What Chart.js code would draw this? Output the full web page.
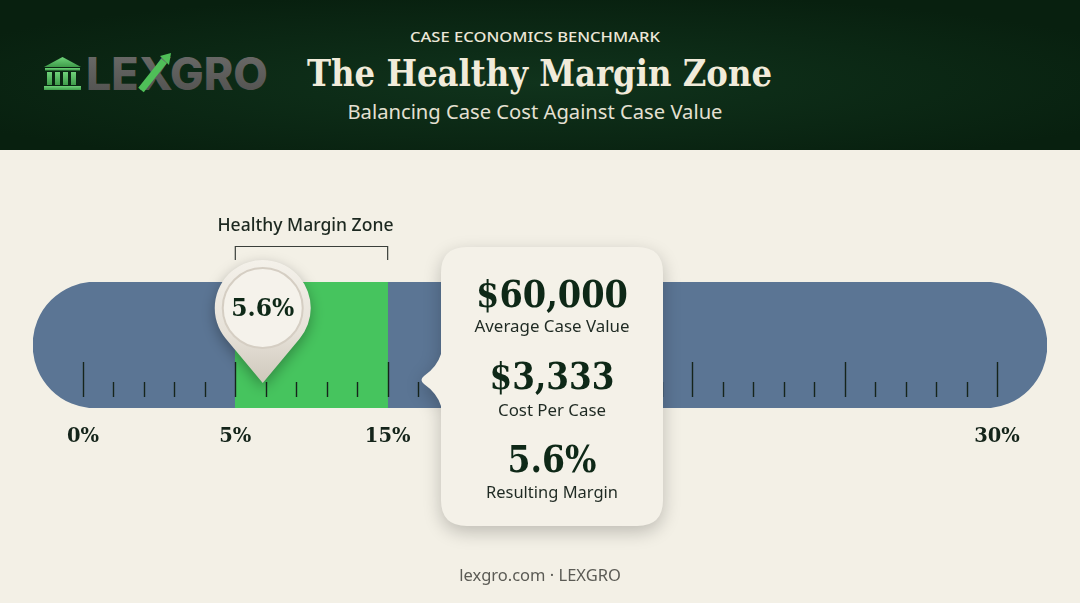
<!DOCTYPE html>
<html>
<head>
<meta charset="utf-8">
<script src="https://cdn.jsdelivr.net/npm/chart.js@4.4.1/dist/chart.umd.min.js"></script>
<style>
  html, body { margin: 0; padding: 0; }
  body { width: 1080px; height: 603px; background: #F3F0E6; position: relative; overflow: hidden; font-family: "Noto Sans", sans-serif; }
  #head { position: absolute; left: 0; top: 0; }
  #myChart { position: absolute; left: 0; top: 0; z-index: 1; }
  #foot { position: absolute; left: 0; width: 1080px; top: 563px; text-align: center; font-size: 16.5px; color: #5b5b55; z-index: 2; }
</style>
</head>
<body>
<svg id="head" width="1080" height="150" viewBox="0 0 1080 150">
  <defs>
    <radialGradient id="hg" cx="50%" cy="55%" r="60%">
      <stop offset="0" stop-color="#10331c"/>
      <stop offset="1" stop-color="#08200f"/>
    </radialGradient>
    <linearGradient id="lg" x1="0" y1="0" x2="0" y2="1">
      <stop offset="0" stop-color="#6fd27a"/>
      <stop offset="1" stop-color="#3f9c4a"/>
    </linearGradient>
    <linearGradient id="tg" x1="0" y1="0" x2="0" y2="1">
      <stop offset="0" stop-color="#6e6e6c"/>
      <stop offset="1" stop-color="#4e4e4c"/>
    </linearGradient>
  </defs>
  <rect x="0" y="0" width="1080" height="150" fill="url(#hg)"/>
  <!-- logo -->
  <g fill="url(#lg)">
    <polygon points="44,67 62.5,57 81,67"/>
    <rect x="45" y="68" width="35" height="2.5"/>
    <rect x="47" y="72" width="5" height="13"/>
    <rect x="55" y="72" width="5" height="13"/>
    <rect x="63" y="72" width="5" height="13"/>
    <rect x="71" y="72" width="5" height="13"/>
    <rect x="44" y="86" width="37" height="4"/>
  </g>
  <text x="86" y="90" font-family="Inter, 'DejaVu Sans', sans-serif" font-weight="800" font-size="45" fill="url(#tg)" textLength="182" lengthAdjust="spacingAndGlyphs">LEXGRO</text>
  <g stroke="#4fbf58" stroke-width="7" fill="none" stroke-linecap="butt">
    <line x1="141" y1="90" x2="164" y2="61"/>
  </g>
  <polygon points="160,56 171,53 169,65" fill="#4fbf58"/>
  <!-- titles -->
  <text x="535" y="42" text-anchor="middle" font-family="'Noto Sans', sans-serif" font-weight="500" font-size="15" fill="#ECE7D8" textLength="250" lengthAdjust="spacingAndGlyphs">CASE ECONOMICS BENCHMARK</text>
  <text x="307" y="86" font-family="'DejaVu Serif', serif" font-weight="700" font-size="37" fill="#F1EBDA" textLength="465" lengthAdjust="spacingAndGlyphs">The Healthy Margin Zone</text>
  <text x="535" y="119" text-anchor="middle" font-family="'Noto Sans', sans-serif" font-size="20.5" fill="#E4E0D2" textLength="375" lengthAdjust="spacingAndGlyphs">Balancing Case Cost Against Case Value</text>
</svg>
<canvas id="myChart" width="1080" height="603"></canvas>
<div id="foot">lexgro.com · LEXGRO</div>
<script>
// gauge data, in the gauge's own units (one minor tick = 1)
const gaugeRows = ["Margin"];
const trackRange = [-1.64, 31.64]; // blue track incl. rounded ends
const zoneRange = [5, 10]; // green healthy zone
const majorTicks = [0, 5, 10, 15, 20, 25, 30];
const labelAt = [0, 5, 10, 30];
const labelText = ["0%", "5%", "15%", "30%"];
const markerAt = 5.9; // where the pin sits on the gauge
const markerLabel = "5.6%";
const zoneTitle = "Healthy Margin Zone";
const calloutValues = ["$60,000", "$3,333", "5.6%"];
const calloutCaptions = ["Average Case Value", "Cost Per Case", "Resulting Margin"];

const dark = "#0E2817";
const serif = "'DejaVu Serif', serif";
const sans = "'Noto Sans', sans-serif";

const gaugeExtras = {
  id: "gaugeExtras",
  afterDatasetsDraw(chart) {
    const { ctx, chartArea } = chart;
    const x = chart.scales.x;
    const bottom = chartArea.bottom;

    // tick marks inside the track
    ctx.save();
    ctx.strokeStyle = "#16241b";
    ctx.lineWidth = 1.4;
    for (let v = majorTicks[0]; v <= majorTicks[majorTicks.length - 1]; v++) {
      const px = Math.round(x.getPixelForValue(v)) + 0.5;
      const top = majorTicks.includes(v) ? bottom - 46 : bottom - 26;
      ctx.beginPath();
      ctx.moveTo(px, top);
      ctx.lineTo(px, bottom - 11);
      ctx.stroke();
    }

    // bracket + zone title
    const z0 = x.getPixelForValue(zoneRange[0]);
    const z1 = x.getPixelForValue(zoneRange[1]);
    ctx.strokeStyle = "#3a3f3a";
    ctx.lineWidth = 1.2;
    ctx.beginPath();
    ctx.moveTo(z0, 260);
    ctx.lineTo(z0, 246.5);
    ctx.lineTo(z1, 246.5);
    ctx.lineTo(z1, 260);
    ctx.stroke();
    ctx.fillStyle = "#1c2820";
    ctx.font = "500 18px " + sans;
    ctx.textAlign = "center";
    ctx.textBaseline = "alphabetic";
    ctx.fillText(zoneTitle, (z0 + z1) / 2 - 6, 231, 176);
    ctx.restore();

    // pin marker
    const cx = x.getPixelForValue(markerAt);
    const cy = 308, R = 48, tipY = 383;
    const th = Math.acos(R / (tipY - cy));
    ctx.save();
    ctx.shadowColor = "rgba(0,0,0,0.30)";
    ctx.shadowBlur = 14;
    ctx.shadowOffsetY = 5;
    const g = ctx.createLinearGradient(0, cy - R, 0, tipY);
    g.addColorStop(0, "#F4F1EA");
    g.addColorStop(0.6, "#E6E1D8");
    g.addColorStop(1, "#CFC8BC");
    ctx.fillStyle = g;
    ctx.beginPath();
    ctx.moveTo(cx, tipY);
    ctx.arc(cx, cy, R, Math.PI / 2 + th, Math.PI / 2 - th + Math.PI * 2);
    ctx.closePath();
    ctx.fill();
    ctx.restore();
    ctx.save();
    ctx.fillStyle = "#F5F2EB";
    ctx.strokeStyle = "#D5CEC3";
    ctx.lineWidth = 2;
    ctx.beginPath();
    ctx.arc(cx, cy, 40, 0, Math.PI * 2);
    ctx.fill();
    ctx.stroke();
    ctx.fillStyle = dark;
    ctx.font = "700 24px " + serif;
    ctx.textAlign = "center";
    ctx.fillText(markerLabel, cx, 316, 63);
    ctx.restore();

    // callout card
    const L = 441, T = 247, Rt = 663, B = 526, r = 26;
    ctx.save();
    ctx.shadowColor = "rgba(0,0,0,0.22)";
    ctx.shadowBlur = 18;
    ctx.shadowOffsetY = 6;
    ctx.fillStyle = "#F4F1E8";
    ctx.beginPath();
    ctx.moveTo(L + r, T);
    ctx.lineTo(Rt - r, T);
    ctx.quadraticCurveTo(Rt, T, Rt, T + r);
    ctx.lineTo(Rt, B - r);
    ctx.quadraticCurveTo(Rt, B, Rt - r, B);
    ctx.lineTo(L + r, B);
    ctx.quadraticCurveTo(L, B, L, B - r);
    ctx.lineTo(L, 406);
    ctx.quadraticCurveTo(437, 393, 424, 384);
    ctx.quadraticCurveTo(419, 380, 424, 376);
    ctx.quadraticCurveTo(437, 367, L, 354);
    ctx.lineTo(L, T + r);
    ctx.quadraticCurveTo(L, T, L + r, T);
    ctx.closePath();
    ctx.fill();
    ctx.restore();

    const mid = (L + Rt) / 2;
    const valY = [307, 389, 472];
    const capY = [332, 416, 498];
    const valW = [152, 125, 89];
    const capW = [155, 108, 132];
    ctx.save();
    ctx.textAlign = "center";
    calloutValues.forEach((t, i) => {
      ctx.fillStyle = dark;
      ctx.font = "700 37px " + serif;
      ctx.fillText(t, mid, valY[i], valW[i]);
      ctx.fillStyle = "#1f2a23";
      ctx.font = "400 17px " + sans;
      ctx.fillText(calloutCaptions[i], mid, capY[i], capW[i]);
    });
    ctx.restore();
  },
};

const myChart = document.getElementById("myChart");

new Chart(myChart, {
  type: "bar",
  data: {
    labels: gaugeRows,
    datasets: [
      {
        label: "Healthy Margin Zone",
        data: [zoneRange],
        backgroundColor: "#46C45E",
        borderRadius: 0,
        grouped: false,
        order: 0,
      },
      {
        label: "Gauge",
        data: [trackRange],
        backgroundColor: "#5B7594",
        borderRadius: 64,
        borderSkipped: false,
        grouped: false,
        order: 1,
      },
    ],
  },
  options: {
    indexAxis: "y",
    responsive: false,
    animation: false,
    barPercentage: 1,
    categoryPercentage: 1,
    layout: { padding: { left: 33, right: 33, top: 282, bottom: 155 } },
    plugins: { legend: { display: false }, tooltip: { enabled: false } },
    scales: {
      x: {
        type: "linear",
        min: trackRange[0],
        max: trackRange[1],
        grid: { display: false, drawTicks: false },
        border: { display: false },
        afterBuildTicks: (s) => {
          s.ticks = labelAt.map((v) => ({ value: v }));
        },
        afterFit: (s) => {
          s.height = 40;
        },
        ticks: {
          autoSkip: false,
          maxRotation: 0,
          padding: 17,
          color: "#14241a",
          font: { family: "DejaVu Serif", weight: "bold", size: 19.5 },
          callback: (v) => labelText[labelAt.indexOf(v)],
        },
      },
      y: { display: false },
    },
  },
  plugins: [gaugeExtras],
});
</script>
</body>
</html>
